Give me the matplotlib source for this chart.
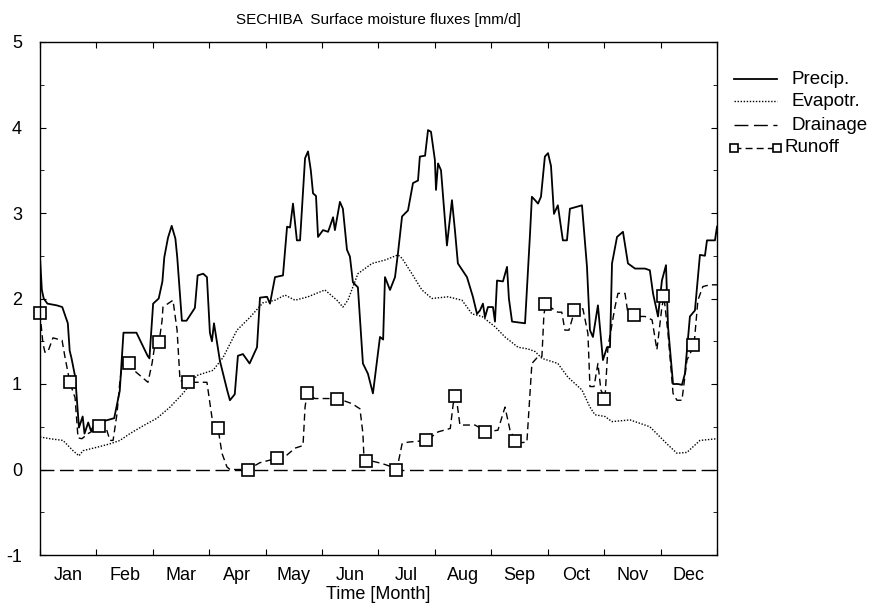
import numpy as np
import matplotlib.pyplot as plt
from matplotlib.lines import Line2D

plt.rcParams['font.family'] = ['Liberation Sans', 'DejaVu Sans']

months = ['Jan', 'Feb', 'Mar', 'Apr', 'May', 'Jun', 'Jul', 'Aug', 'Sep', 'Oct', 'Nov', 'Dec']

# precipitation (day of year, mm/d)
precip_day = [0, 1, 2, 4, 9, 12, 15, 16, 17, 19, 21, 23, 24, 26, 27.5, 30, 35, 40, 43, 45,
              52, 58, 59, 61, 64, 66, 67, 69, 71, 73, 74, 76.5, 79, 83.5, 85, 88, 90, 91.6, 92.7, 93.8,
              97, 101, 102.4, 105, 106.7, 109.4, 113, 117, 118.6, 122.4, 124, 126.7, 131, 133.2, 134.8, 136.4,
              138.5, 140.2, 142.9, 144.5, 146, 147.2, 148.8, 149.9, 152.6, 155.3, 156.3, 158, 159, 161.7,
              163.3, 165.5, 167.1, 168.7, 171.4, 174.1, 176.8, 179.5, 183.3, 185, 186, 188.7, 191.4, 193,
              195.2, 198.4, 201.1, 203.8, 204.8, 207.6, 209.2, 210.8, 212.9, 213.5, 214.6, 216.2, 219.4, 222.1,
              223.7, 225.3, 230.2, 233.4, 235.6, 237.2, 238.8, 239.9, 241.5, 244.2, 245.3, 246.4, 249.6, 251.8,
              252.8, 254.5, 261.5, 264.2, 265.2, 266.9, 268.5, 270.1, 272.2, 273.9, 275.5, 277.1, 279.2, 281.9,
              284.1, 285.7, 292.2, 294.9, 296.5, 298.1, 300.8, 303.5, 305.7, 307.3, 308.4, 311.1, 314.3, 317,
              320.8, 326.2, 328.8, 330.5, 333.2, 335.3, 337.5, 338.6, 341.3, 344, 346.1, 347.7, 350.4, 353.1,
              355.8, 358.5, 359.6, 363.9, 365]
precip_val = [2.48, 2.1, 2.0, 1.94, 1.92, 1.9, 1.71, 1.39, 1.3, 1.08, 0.49, 0.62, 0.42, 0.55, 0.45, 0.56, 0.57, 0.6, 0.92, 1.6,
              1.6, 1.33, 1.3, 1.94, 2.0, 2.2, 2.48, 2.71, 2.85, 2.7, 2.48, 1.74, 1.74, 1.89, 2.27, 2.29, 2.25, 1.6, 1.5, 1.71,
              1.27, 0.92, 0.81, 0.88, 1.33, 1.35, 1.24, 1.43, 2.01, 2.02, 1.94, 2.25, 2.27, 2.84, 2.83, 3.11,
              2.68, 2.68, 3.64, 3.72, 3.5, 3.23, 3.2, 2.72, 2.8, 2.78, 2.84, 2.95, 2.8, 3.13,
              3.05, 2.57, 2.49, 2.19, 2.13, 1.24, 1.12, 0.89, 1.55, 1.52, 2.25, 2.1, 2.25, 2.53,
              2.96, 3.03, 3.35, 3.38, 3.66, 3.67, 3.97, 3.95, 3.62, 3.27, 3.58, 3.5, 2.62, 3.15,
              2.8, 2.41, 2.25, 2.02, 1.82, 1.86, 1.94, 1.78, 1.9, 1.9, 1.73, 2.21, 2.2, 2.37,
              2.0, 1.73, 1.71, 2.76, 3.19, 3.15, 3.11, 3.19, 3.66, 3.7, 3.55, 2.99, 3.09, 2.68,
              2.68, 3.05, 3.09, 2.37, 1.63, 1.55, 1.92, 1.28, 1.43, 1.43, 2.41, 2.72, 2.78, 2.41,
              2.35, 2.35, 2.33, 2.06, 1.79, 2.21, 2.39, 1.67, 1.0, 1.0, 0.99, 1.12, 1.79, 1.86,
              2.51, 2.5, 2.68, 2.68, 2.84]

# evapotranspiration
evap_day = [0, 5.4, 12.4, 17.8, 21, 23.2, 30.7, 37.7, 43.1, 48.5, 55.5, 63.1, 70.1, 77.1, 84.6, 93.3,
            98.7, 106.2, 113.2, 120.2, 126.7, 132.1, 137.5, 144.5, 153.6, 160.1, 163.3, 166, 171.4, 179,
            186, 193, 195.2, 200.5, 205.9, 211.3, 220, 227.5, 232.9, 238.3, 245.3, 250.7, 257.7, 263.1,
            266.9, 270.6, 279.2, 284.6, 292.2, 296.5, 299.2, 304.6, 308.4, 318.1, 328.8, 338, 343.4, 348.8,
            355.8, 365]
evap_val = [0.38, 0.36, 0.34, 0.22, 0.16, 0.22, 0.26, 0.3, 0.34, 0.42, 0.51, 0.6, 0.73, 0.89, 1.1, 1.16,
            1.31, 1.63, 1.78, 1.95, 1.98, 2.04, 1.98, 2.02, 2.1, 1.98, 1.9, 1.98, 2.29, 2.41,
            2.45, 2.51, 2.47, 2.29, 2.1, 2.0, 2.02, 1.98, 1.82, 1.79, 1.67, 1.55, 1.43, 1.41,
            1.38, 1.3, 1.24, 1.08, 0.93, 0.73, 0.64, 0.62, 0.56, 0.58, 0.5, 0.3, 0.19, 0.2,
            0.34, 0.36]

# drainage
drain_day = [0, 365]
drain_val = [0.0, 0.0]

# surface runoff
runoff_day = [0, 1.6, 2.7, 4.3, 7, 11.9, 13.5, 16.2, 18.9, 20.5, 22.6, 25.9, 31.8, 35.6, 37.7, 39.4,
              41.5, 43.1, 44.7, 48, 51.2, 58.2, 60.4, 62, 64.2, 65.8, 66.3, 69, 71.7, 73.9, 75.5, 80.3,
              90, 92.7, 96, 98.1, 100.8, 102.4, 112.1, 118.6, 124, 128.3, 132.1, 137.5, 141.8, 142.9, 144,
              148.2, 160.6, 168.2, 172.5, 174.1, 174.7, 176.8, 184.4, 192.5, 195.2, 198.4, 208.6, 214.6,
              221.2, 222.8, 224.4, 226.4, 234.5, 241, 246.9, 250.7, 253.4, 257.1, 262.5, 265.2, 268.5,
              270.6, 271.7, 272.8, 279.2, 281.3, 283, 285.2, 288.4, 292.7, 295.4, 296.5, 298.7, 300.8,
              302.4, 304.6, 306.2, 310, 311.6, 315.4, 317, 319.7, 326.2, 330, 332.6, 335.3, 336.4, 338.6,
              341.3, 343.4, 346.1, 348.8, 352.6, 354.7, 357.4, 361.2, 365]
runoff_val = [1.83, 1.47, 1.37, 1.38, 1.54, 1.51, 1.31, 1.01, 0.84, 0.37, 0.36, 0.42, 0.49, 0.49, 0.34, 0.34,
              0.65, 1.04, 1.27, 1.24, 1.15, 1.02, 1.24, 1.47, 1.49, 1.74, 1.9, 1.94, 1.98, 1.63, 1.04, 1.02,
              1.02, 0.61, 0.48, 0.19, 0.03, 0.0, 0.0, 0.08, 0.11, 0.13, 0.15, 0.25, 0.28, 0.73, 0.89,
              0.83, 0.83, 0.77, 0.71, 0.42, 0.11, 0.11, 0.07, 0.01, 0.3, 0.32, 0.34, 0.44,
              0.48, 0.77, 0.85, 0.52, 0.52, 0.44, 0.46, 0.73, 0.46, 0.31, 0.32, 1.24, 1.32,
              1.32, 1.82, 1.93, 1.84, 1.84, 1.63, 1.63, 1.87, 1.88, 1.59, 0.97, 0.97, 1.24,
              0.93, 0.83, 1.43, 1.9, 2.06, 2.06, 1.82, 1.79, 1.79, 1.75, 1.4, 1.9, 2.02, 1.59,
              0.89, 0.81, 0.81, 1.28, 1.45, 1.98, 2.14, 2.16, 2.16]

# runoff markers
mark_day = [0, 16, 32, 48, 64, 80, 96, 112, 128, 144, 160, 176, 192, 208, 224, 240, 256, 272, 288, 304, 320, 336, 352]
mark_val = [1.83, 1.02, 0.51, 1.25, 1.49, 1.02, 0.48, 0.0, 0.14, 0.9, 0.83, 0.1, 0.0, 0.35, 0.86, 0.44, 0.33,
            1.93, 1.87, 0.83, 1.81, 2.03, 1.46]

labels = ['Precip.', 'Evapotr.', 'Drainage', 'Runoff']

W, H = 870, 609
fig = plt.figure(figsize=(W / 100, H / 100), dpi=100)
ax = fig.add_axes([40 / W, 1 - 555 / H, 677 / W, 513 / H])

sty_p = dict(color='black', lw=1.3, ls='-')
sty_e = dict(color='black', lw=1.0, ls=(0, (1, 1.2)))
sty_d = dict(color='black', lw=1.0, ls=(0, (10, 4)))
sty_r = dict(color='black', lw=1.0, ls=(0, (5, 3)))
sty_m = dict(marker='s', ms=8, mfc='white', mec='black', mew=1.2)

ax.plot(precip_day, precip_val, **sty_p)
ax.plot(evap_day, evap_val, **sty_e)
ax.plot(drain_day, drain_val, **sty_d)
ax.plot(runoff_day, runoff_val, **sty_r)
ax.plot(mark_day, mark_val, ls='none', clip_on=False, **sty_m)

ax.set_xlim(0, 365)
ax.set_ylim(-1, 5)

bounds = np.arange(13) * 365 / 12
centers = bounds[:-1] + 365 / 24
ax.set_xticks(bounds)
ax.set_xticklabels([])
ax.set_xticks(centers, minor=True)
ax.set_xticklabels(months, minor=True, fontsize=13)
ax.tick_params(axis='x', which='minor', length=0, pad=9)
ax.tick_params(axis='x', which='major', direction='in', length=4, top=True, bottom=True)

ax.set_yticks(np.arange(-1, 6))
ax.set_yticklabels([str(v) for v in range(-1, 6)], fontsize=13)
ax.set_yticks(np.arange(-1, 5.01, 0.5), minor=True)
ax.tick_params(axis='y', which='both', direction='in', left=True, right=True)
ax.tick_params(axis='y', which='major', length=4, pad=13)
ax.tick_params(axis='y', which='minor', length=3)

for s in ax.spines.values():
    s.set_linewidth(1.0)

ax.set_title('SECHIBA  Surface moisture fluxes [mm/d]', fontsize=11, pad=13)
ax.set_xlabel('Time [Month]', fontsize=13, labelpad=1)

# legend drawn by hand, to the right of the axes
rows = [79, 101, 125, 148]
stys = [sty_p, sty_e, sty_d, dict(sty_r, marker='s', ms=6, mfc='white', mec='black', mew=1.2)]
text_x = [792, 792, 792, 785]
for lab, yy, st, tx in zip(labels, rows, stys, text_x):
    fig.add_artist(Line2D([734 / W, 777 / W], [1 - yy / H, 1 - yy / H], transform=fig.transFigure, **st))
    fig.text(tx / W, 1 - yy / H, lab, fontsize=13.5, ha='left', va='center')

fig.savefig('out.png', dpi=100)
